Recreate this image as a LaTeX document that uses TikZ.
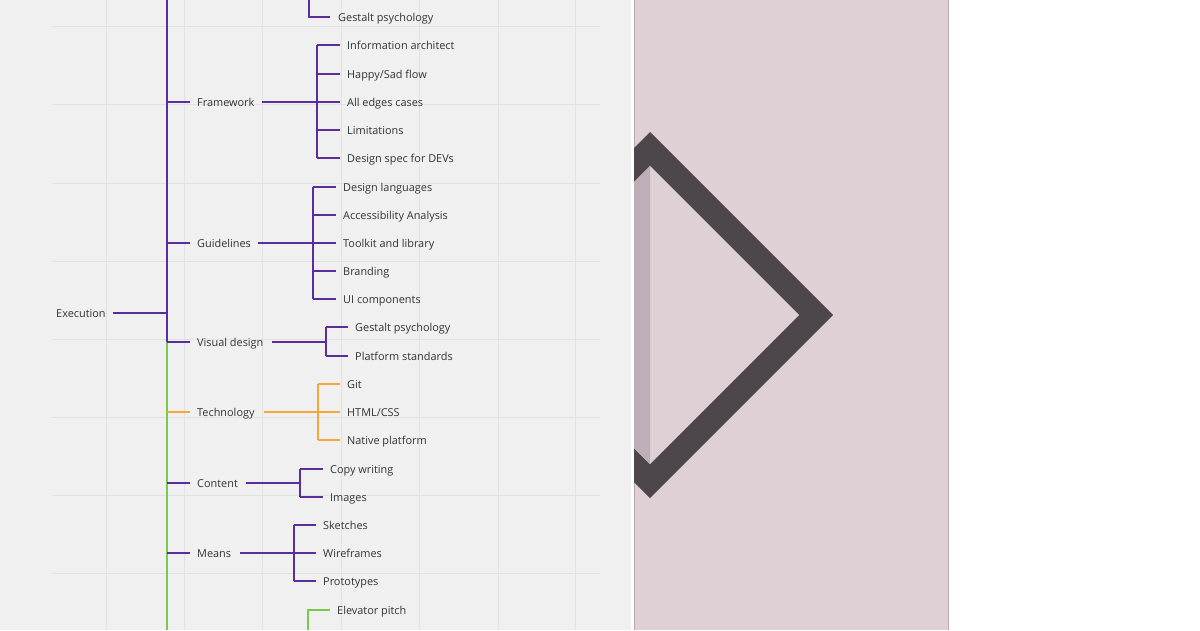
\documentclass[tikz,border=0pt]{standalone}
\usepackage{fontspec}
\setmainfont{Open Sans}
\usetikzlibrary{calc,positioning}
\definecolor{gridbg}{HTML}{F0F0F0}
\definecolor{gridln}{HTML}{E2E2E2}
\definecolor{mmpurple}{HTML}{5B2C9C}
\definecolor{mmorange}{HTML}{F4A83A}
\definecolor{mmgreen}{HTML}{7CC84A}
\definecolor{panel}{HTML}{DFD0D6}
\definecolor{panelline}{HTML}{B8A8AF}
\definecolor{chevron}{HTML}{4D474B}
\definecolor{strip}{HTML}{BDAFB5}

\begin{document}
\begin{tikzpicture}[x=1pt,y=-1pt]
    \tikzstyle{lbl} = [anchor=west, inner sep=0pt, text height=0.95em, text depth=0.05em, text=black!80, font=\fontsize{10.9}{12}\selectfont]
    \tikzstyle{pline} = [draw=mmpurple, line width=1.6pt]
    \tikzstyle{oline} = [draw=mmorange, line width=1.6pt]
    \tikzstyle{gline} = [draw=mmgreen, line width=1.6pt]
    \useasboundingbox (0,0) rectangle (1200,630);
    \fill[white] (0,0) rectangle (1200,630);
    % grid panel
    \fill[gridbg] (0,0) rectangle (631,630);
    \foreach \gx in {106,184,262,341,419,498,575}
      \draw[gridln, line width=0.8pt] (\gx,0) -- (\gx,630);
    \foreach \gy in {26,104,183,261,339,417,495,573}
      \draw[gridln, line width=0.8pt] (52,\gy) -- (600,\gy);

    % right panel
    \fill[panel] (634,0) rectangle (948,630);
    \draw[panelline, line width=0.8pt] (634,0) -- (634,630) (948,0) -- (948,630);
    \begin{scope}
      \clip (634,0) rectangle (948,630);
      \fill[chevron] (650,132) -- (833,315) -- (650,498) -- (467,315) -- cycle;
      \fill[panel] (650,166) -- (799,315) -- (650,464) -- (501,315) -- cycle;
      \fill[strip] (650,166) -- (650,464) -- (501,315) -- cycle;
    \end{scope}

    % mind map
    \node[lbl] (exec) at (56,313) {Execution};
    \coordinate (tt) at (167,0);
    \coordinate (tm) at (167,342);
    \coordinate (tb) at (167,630);
    \draw[pline] (tt) -- (tm);
    \draw[gline] (tm) -- (tb);
    \draw[pline] (113,313) -- (exec-|tm);

    \node[lbl] (fw) at (197,102) {Framework};
    \node[lbl] (gl) at (197,243) {Guidelines};
    \node[lbl] (vd) at (197,342) {Visual design};
    \node[lbl] (te) at (197,412) {Technology};
    \node[lbl] (ct) at (197,483) {Content};
    \node[lbl] (me) at (197,553) {Means};
    \foreach \br in {fw,gl,vd,ct,me}
      \draw[pline] (\br.west-|tm) -- ([xshift=-7pt]\br.west);
    \draw[oline] (te.west-|tm) -- ([xshift=-7pt]te.west);

    % top remnant
    \node[lbl] (gp0) at (338,17) {Gestalt psychology};
    \draw[pline] (309,0) |- ([xshift=-8pt]gp0.west);

    % Framework
    \coordinate (fwb) at (317,102);
    \node[lbl] (fw1) at (347,45) {Information architect};
    \node[lbl] (fw2) at (347,74) {Happy/Sad flow};
    \node[lbl] (fw3) at (347,102) {All edges cases};
    \node[lbl] (fw4) at (347,130) {Limitations};
    \node[lbl] (fw5) at (347,158) {Design spec for DEVs};
    \draw[pline] (262,102) -- (fwb);
    \draw[pline] (fwb|-fw1.west) -- (fwb|-fw5.west);
    \foreach \c in {fw1,fw2,fw3,fw4,fw5}
      \draw[pline] (fwb|-\c.west) -- ([xshift=-7pt]\c.west);

    % Guidelines
    \coordinate (glb) at (313,243);
    \node[lbl] (gl1) at (343,187) {Design languages};
    \node[lbl] (gl2) at (343,215) {Accessibility Analysis};
    \node[lbl] (gl3) at (343,243) {Toolkit and library};
    \node[lbl] (gl4) at (343,271) {Branding};
    \node[lbl] (gl5) at (343,299) {UI components};
    \draw[pline] (258,243) -- (glb);
    \draw[pline] (glb|-gl1.west) -- (glb|-gl5.west);
    \foreach \c in {gl1,gl2,gl3,gl4,gl5}
      \draw[pline] (glb|-\c.west) -- ([xshift=-7pt]\c.west);

    % Visual design
    \coordinate (vdb) at (326,342);
    \node[lbl] (vd1) at (355,327) {Gestalt psychology};
    \node[lbl] (vd2) at (355,356) {Platform standards};
    \draw[pline] (272,342) -- (vdb);
    \draw[pline] (vdb|-vd1.west) -- (vdb|-vd2.west);
    \foreach \c in {vd1,vd2}
      \draw[pline] (vdb|-\c.west) -- ([xshift=-7pt]\c.west);

    % Technology
    \coordinate (teb) at (318,412);
    \node[lbl] (te1) at (347,384) {Git};
    \node[lbl] (te2) at (347,412) {HTML/CSS};
    \node[lbl] (te3) at (347,440) {Native platform};
    \draw[oline] (264,412) -- (teb);
    \draw[oline] (teb|-te1.west) -- (teb|-te3.west);
    \foreach \c in {te1,te2,te3}
      \draw[oline] (teb|-\c.west) -- ([xshift=-7pt]\c.west);

    % Content
    \coordinate (ctb) at (300,483);
    \node[lbl] (ct1) at (330,469) {Copy writing};
    \node[lbl] (ct2) at (330,497) {Images};
    \draw[pline] (246,483) -- (ctb);
    \draw[pline] (ctb|-ct1.west) -- (ctb|-ct2.west);
    \foreach \c in {ct1,ct2}
      \draw[pline] (ctb|-\c.west) -- ([xshift=-7pt]\c.west);

    % Means
    \coordinate (meb) at (294,553);
    \node[lbl] (me1) at (323,525) {Sketches};
    \node[lbl] (me2) at (323,553) {Wireframes};
    \node[lbl] (me3) at (323,581) {Prototypes};
    \draw[pline] (240,553) -- (meb);
    \draw[pline] (meb|-me1.west) -- (meb|-me3.west);
    \foreach \c in {me1,me2,me3}
      \draw[pline] (meb|-\c.west) -- ([xshift=-7pt]\c.west);

    % bottom remnant
    \node[lbl] (ep) at (337,610) {Elevator pitch};
    \draw[gline] (308,630) |- ([xshift=-7pt]ep.west);
\end{tikzpicture}
\end{document}
